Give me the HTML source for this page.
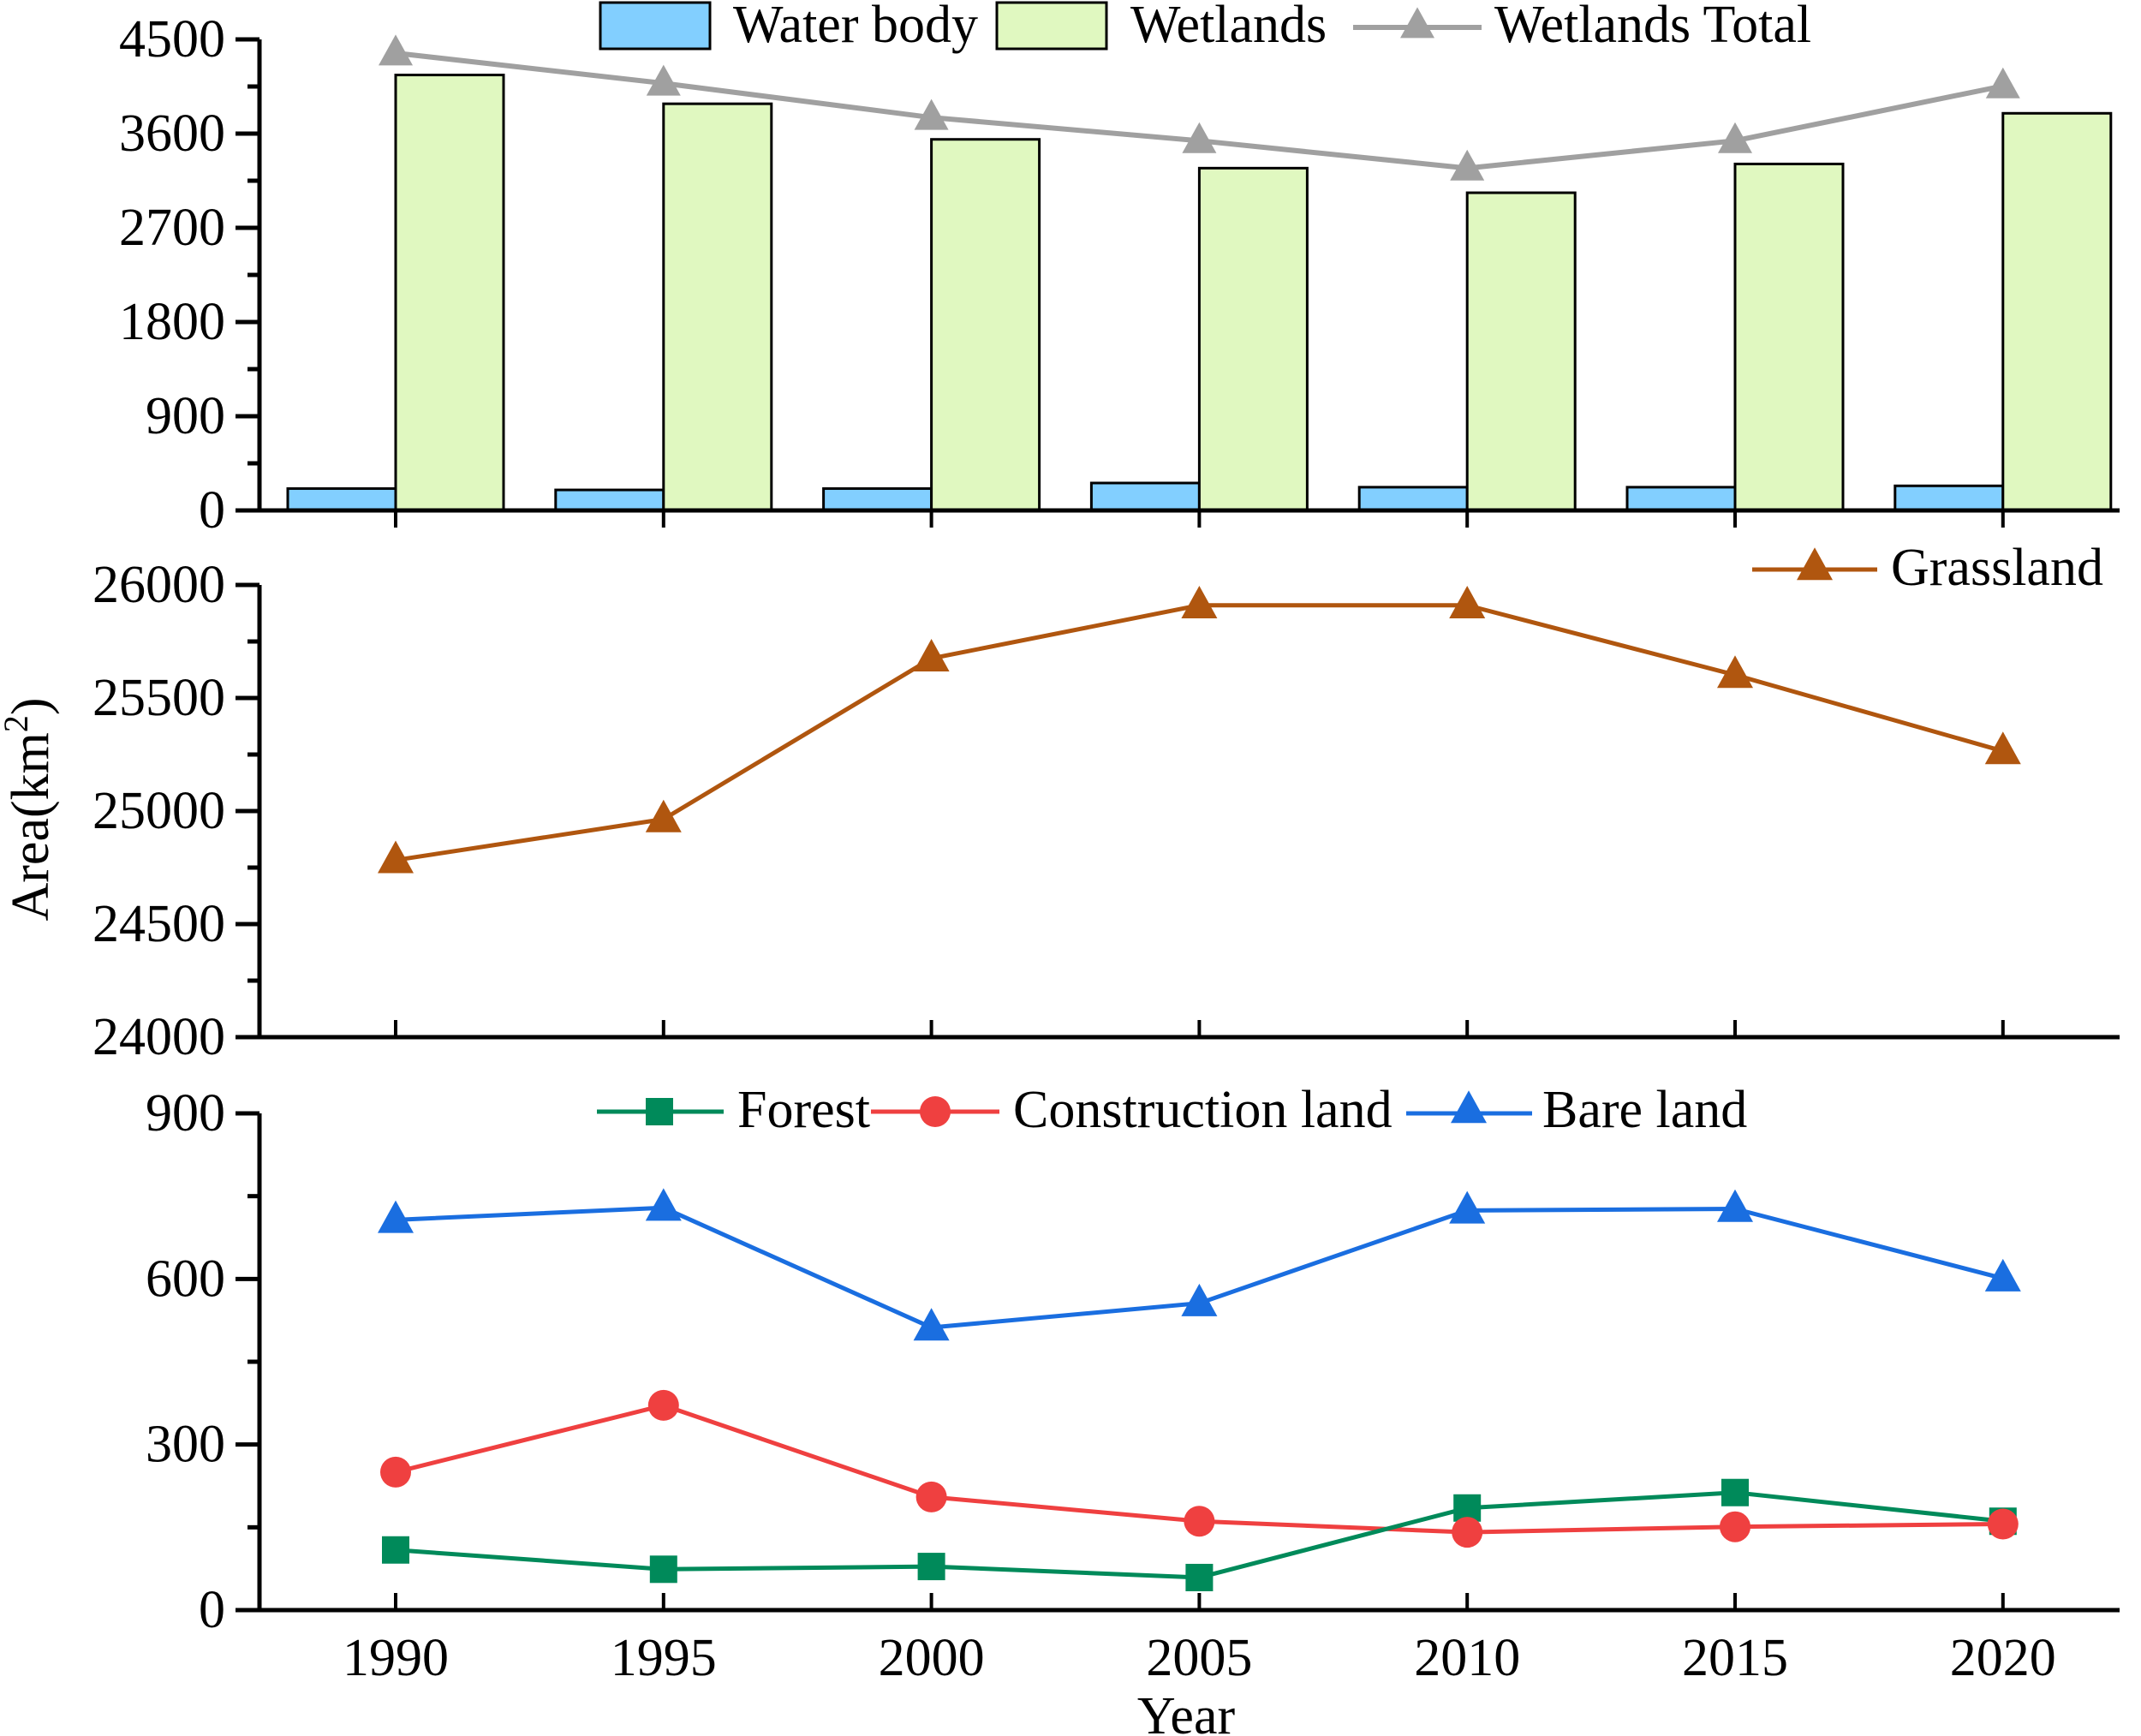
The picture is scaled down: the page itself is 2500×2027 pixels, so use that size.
<!DOCTYPE html>
<html><head><meta charset="utf-8"><style>
html,body{margin:0;padding:0;background:#fff}
svg{display:block}
text{font-family:"Liberation Serif","Times New Roman",serif;font-size:62px;fill:#000}
</style></head><body>
<svg id="chart" width="2500" height="2027" viewBox="0 0 2500 2027" xmlns="http://www.w3.org/2000/svg"></svg>
<script>
const years = ["1990","1995","2000","2005","2010","2015","2020"];
const waterBody = [209,196,209,262,222,222,235];
const wetlands = [4160,3885,3545,3270,3035,3310,3794];
const wetlandsTotal = [4369,4081,3754,3532,3270,3532,4055];
const grassland = [24783,24964,25675,25910,25910,25602,25265];
const forest = [109,74,79,59,185,213,161];
const construction = [250,371,205,161,141,151,156];
const bareLand = [707,729,512,556,724,727,601];
const topTicks = [0,900,1800,2700,3600,4500];
const midTicks = [24000,24500,25000,25500,26000];
const botTicks = [0,300,600,900];

const svg = document.getElementById('chart');
const NS = 'http://www.w3.org/2000/svg';
function mk(tag, attrs, parent){
  const e = document.createElementNS(NS, tag);
  for (const k in attrs) e.setAttribute(k, attrs[k]);
  (parent||svg).appendChild(e);
  return e;
}
function txt(x, y, s, anchor, name){
  const t = mk('text', {x:x, y:y, 'text-anchor':anchor||'start', 'dominant-baseline':'central'});
  t.textContent = s;
  
  
  return t;
}
const x0 = 462, dx = 312.8, axL = 303, axR = 2475;
const xs = i => x0 + i*dx;
const panels = {
  top: {y0:596, y1:46, min:0, max:4500},
  mid: {y0:1211, y1:683, min:24000, max:26000},
  bot: {y0:1880, y1:1300, min:0, max:900}
};
const ys = (p, v) => p.y0 - (v - p.min)/(p.max - p.min)*(p.y0 - p.y1);

function axes(p, ticks, minorStep, name, xTickDir){
  const g = mk('g', {});
  
  
  mk('line', {x1:axL, y1:p.y1, x2:axL, y2:p.y0, stroke:'#000', 'stroke-width':5}, g);
  mk('line', {x1:axL-2, y1:p.y0, x2:axR, y2:p.y0, stroke:'#000', 'stroke-width':5}, g);
  for (let v = p.min; v <= p.max + 0.001; v += minorStep) {
    const y = ys(p, v);
    const major = ticks.some(t => Math.abs(t - v) < 0.001);
    mk('line', {x1:axL - (major?28:14), y1:y, x2:axL, y2:y, stroke:'#000', 'stroke-width':5}, g);
  }
  ticks.forEach(v => txt(263, ys(p, v), String(v), 'end', name + '-y-tick-label'));
  years.forEach((yr, i) => {
    mk('line', {x1:xs(i), y1:p.y0, x2:xs(i), y2:p.y0 + xTickDir*20, stroke:'#000', 'stroke-width':4}, g);
  });
}
axes(panels.top, topTicks, 450, 'top-panel', 1);
axes(panels.mid, midTicks, 250, 'middle-panel', -1);
axes(panels.bot, botTicks, 150, 'bottom-panel', -1);

function tri(cx, cy, w, h, color, name){
  const e = mk('polygon', {points:`${cx},${cy-h*0.6} ${cx-w/2},${cy+h*0.4} ${cx+w/2},${cy+h*0.4}`, fill:color});
  
  
}
function sq(cx, cy, s, color, name){
  const e = mk('rect', {x:cx-s/2, y:cy-s/2, width:s, height:s, fill:color});
  
  
}
function circ(cx, cy, r, color, name){
  const e = mk('circle', {cx:cx, cy:cy, r:r, fill:color});
  
  
}
function line(p, vals, color, w, name){
  const e = mk('polyline', {points:vals.map((v,i)=>`${xs(i)},${ys(p,v)}`).join(' '), fill:'none', stroke:color, 'stroke-width':w, 'stroke-linejoin':'round'});
  
  
}

const bw = 126, T = panels.top;
waterBody.forEach((v,i) => {
  const e = mk('rect', {x:xs(i)-bw, y:ys(T,v), width:bw, height:T.y0-ys(T,v), fill:'#82cfff', stroke:'#000', 'stroke-width':3});
  
  
});
wetlands.forEach((v,i) => {
  const e = mk('rect', {x:xs(i), y:ys(T,v), width:bw, height:T.y0-ys(T,v), fill:'#e0f8c0', stroke:'#000', 'stroke-width':3});
  
  
});
mk('line', {x1:axL, y1:T.y0, x2:axR, y2:T.y0, stroke:'#000', 'stroke-width':5});
line(T, wetlandsTotal, '#a0a0a0', 6, 'wetlands-total-line');
wetlandsTotal.forEach((v,i) => tri(xs(i), ys(T,v), 40, 36, '#a0a0a0', 'wetlands-total-point-' + years[i]));

const M = panels.mid;
line(M, grassland, '#b0560f', 5, 'grassland-line');
grassland.forEach((v,i) => tri(xs(i), ys(M,v), 42, 38, '#b0560f', 'grassland-point-' + years[i]));

const B = panels.bot;
line(B, bareLand, '#1a6ee0', 5, 'bare-land-line');
line(B, construction, '#ef4040', 5, 'construction-land-line');
line(B, forest, '#008a5a', 5, 'forest-line');
bareLand.forEach((v,i) => tri(xs(i), ys(B,v), 42, 38, '#1a6ee0', 'bare-land-point-' + years[i]));
forest.forEach((v,i) => sq(xs(i), ys(B,v), 32, '#008a5a', 'forest-point-' + years[i]));
construction.forEach((v,i) => circ(xs(i), ys(B,v), 18, '#ef4040', 'construction-land-point-' + years[i]));

years.forEach((yr,i) => txt(xs(i), 1936, yr, 'middle', 'x-tick-label-' + yr));
txt(1385, 2004, 'Year', 'middle', 'x-axis-title');

const yt = mk('text', {transform:'translate(56,945) rotate(-90)', 'text-anchor':'middle'});


yt.innerHTML = 'Area(km<tspan dy="-24" font-size="40">2</tspan><tspan dy="24">)</tspan>';

function lg(name){ const g = mk('g', {});   return g; }
let g = lg('legend-water-body');
mk('rect', {x:701, y:3, width:128, height:54, fill:'#82cfff', stroke:'#000', 'stroke-width':3}, g);
txt(856, 29, 'Water body', 'start', 'legend-water-body-label');
g = lg('legend-wetlands');
mk('rect', {x:1164, y:3, width:128, height:54, fill:'#e0f8c0', stroke:'#000', 'stroke-width':3}, g);
txt(1320, 29, 'Wetlands', 'start', 'legend-wetlands-label');
g = lg('legend-wetlands-total');
mk('line', {x1:1580, y1:32, x2:1730, y2:32, stroke:'#a0a0a0', 'stroke-width':6}, g);
tri(1655, 30, 40, 36, '#a0a0a0', 'legend-wetlands-total-marker');
txt(1745, 29, 'Wetlands Total', 'start', 'legend-wetlands-total-label');
g = lg('legend-grassland');
mk('line', {x1:2046, y1:665, x2:2192, y2:665, stroke:'#b0560f', 'stroke-width':5}, g);
tri(2119, 662, 42, 38, '#b0560f', 'legend-grassland-marker');
txt(2208, 663, 'Grassland', 'start', 'legend-grassland-label');
g = lg('legend-forest');
mk('line', {x1:697, y1:1298, x2:845, y2:1298, stroke:'#008a5a', 'stroke-width':5}, g);
sq(770, 1298, 32, '#008a5a', 'legend-forest-marker');
txt(861, 1296, 'Forest', 'start', 'legend-forest-label');
g = lg('legend-construction-land');
mk('line', {x1:1017, y1:1298, x2:1167, y2:1298, stroke:'#ef4040', 'stroke-width':5}, g);
circ(1092, 1298, 18, '#ef4040', 'legend-construction-land-marker');
txt(1183, 1296, 'Construction land', 'start', 'legend-construction-land-label');
g = lg('legend-bare-land');
mk('line', {x1:1642, y1:1300, x2:1789, y2:1300, stroke:'#1a6ee0', 'stroke-width':5}, g);
tri(1715, 1296, 42, 38, '#1a6ee0', 'legend-bare-land-marker');
txt(1801, 1296, 'Bare land', 'start', 'legend-bare-land-label');
</script>
</body></html>
